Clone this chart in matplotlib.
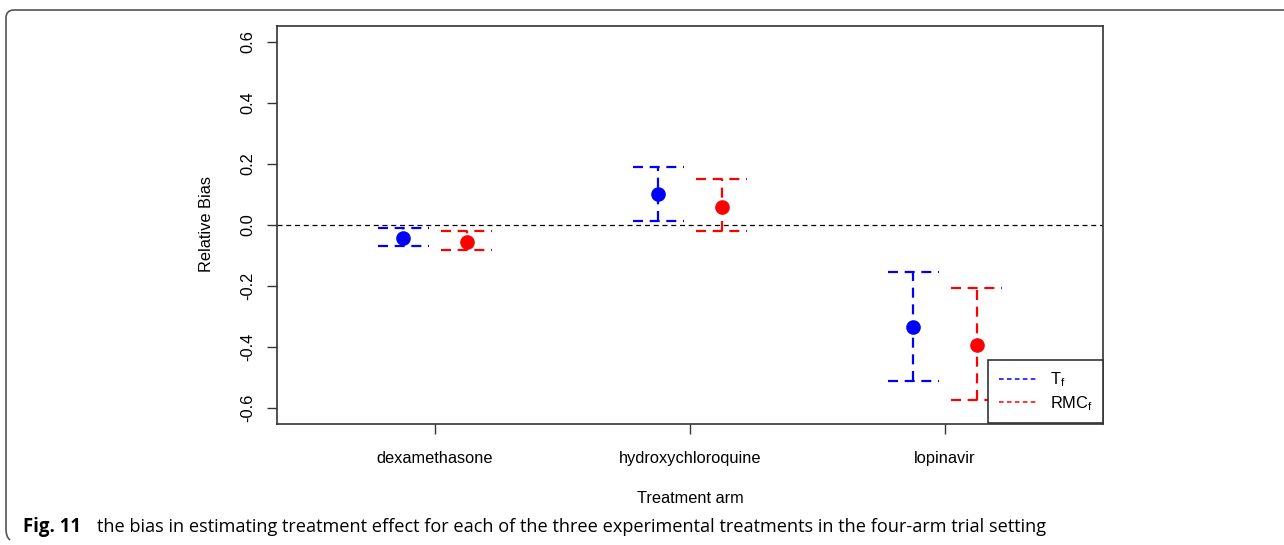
import matplotlib
matplotlib.use('Agg')
import matplotlib.pyplot as plt
from matplotlib.lines import Line2D
from matplotlib.path import Path
from matplotlib.patches import PathPatch

# ---- data ----
treatments = ['dexamethasone', 'hydroxychloroquine', 'lopinavir']
tf_est = [-0.043, 0.101, -0.333]
tf_lower = [-0.069, 0.014, -0.510]
tf_upper = [-0.010, 0.189, -0.155]
rmc_est = [-0.056, 0.060, -0.394]
rmc_lower = [-0.082, -0.020, -0.573]
rmc_upper = [-0.020, 0.150, -0.208]
yticks = [-0.6, -0.4, -0.2, 0.0, 0.2, 0.4, 0.6]
ytick_labels = ['-0.6', '-0.4', '-0.2', '0.0', '0.2', '0.4', '0.6']
series_labels = [r'T$_{\mathregular{f}}$', r'RMC$_{\mathregular{f}}$']
series_colors = ['#0000ff', '#ff0000']
xlabel = 'Treatment arm'
ylabel = 'Relative Bias'
caption_bold = 'Fig. 11'
caption_text = ('the bias in estimating treatment effect for each of the three '
                'experimental treatments in the four-arm trial setting')

plt.rcParams['font.family'] = ['Liberation Sans', 'DejaVu Sans']
plt.rcParams['mathtext.fontset'] = 'custom'
plt.rcParams['mathtext.rm'] = 'Liberation Sans'

W, H = 1284, 545
fig = plt.figure(figsize=(W / 100, H / 100), dpi=100)
fig.patch.set_facecolor('white')

# outer frame (top and left border with rounded corners)
r = 8
verts = [(W, H - 10), (6 + r, H - 10), (6, H - 10), (6, H - 10 - r), (6, 8 + r), (6, 8), (6 + r * 0.5, 5)]
codes = [Path.MOVETO, Path.LINETO, Path.CURVE3, Path.CURVE3, Path.LINETO, Path.CURVE3, Path.CURVE3]
fig.add_artist(PathPatch(Path(verts, codes), transform=None, fill=False,
                         edgecolor='#555555', linewidth=1.2))

ax = fig.add_axes([277 / W, 1 - 423.5 / H, (1103 - 277) / W, (423.5 - 25.5) / H])
x = [1, 2, 3]
off = 0.125
cap = 0.1
dash = (0, (4.5, 3))
lw = 1.6

for est, lo, hi, col, sgn in [(tf_est, tf_lower, tf_upper, series_colors[0], -1),
                              (rmc_est, rmc_lower, rmc_upper, series_colors[1], 1)]:
    xs = [xi + sgn * off for xi in x]
    ax.vlines(xs, lo, hi, colors=col, linestyles=dash, linewidth=lw, zorder=2)
    ax.hlines(lo, [v - cap for v in xs], [v + cap for v in xs], colors=col,
              linestyles=dash, linewidth=lw, zorder=2)
    ax.hlines(hi, [v - cap for v in xs], [v + cap for v in xs], colors=col,
              linestyles=dash, linewidth=lw, zorder=2)
    ax.plot(xs, est, 'o', color=col, markersize=9.5, zorder=3)

ax.axhline(0, color='black', linestyle=(0, (4, 3)), linewidth=0.9, zorder=1)

ax.set_xlim(0.38, 3.62)
ax.set_ylim(-0.650, 0.653)
ax.set_xticks(x)
ax.set_xticklabels(treatments, fontsize=11.8)
ax.set_yticks(yticks)
ax.set_yticklabels(ytick_labels, fontsize=11.8, rotation=90, va='center')
ax.tick_params(axis='both', direction='out', length=7, width=1.0, color='#333333')
ax.tick_params(axis='x', pad=13)
ax.tick_params(axis='y', pad=8.5)
for s in ax.spines.values():
    s.set_color('#333333')
    s.set_linewidth(1.2)

ax.set_xlabel(xlabel, fontsize=11.8, labelpad=18)
ax.set_ylabel(ylabel, fontsize=11.8, labelpad=19)

handles = [Line2D([], [], color=c, linestyle=(0, (3, 2.2)), linewidth=1.1) for c in series_colors]
leg = ax.legend(handles, series_labels, loc='lower right', borderaxespad=0,
                fontsize=11.8, handlelength=2.3, handletextpad=0.8, labelspacing=0.3,
                borderpad=0.65, fancybox=False, framealpha=1, edgecolor='#333333')
leg.get_frame().set_linewidth(1.2)
leg.set_zorder(5)

fig.text(23 / W, 1 - 532 / H, caption_bold, fontsize=13.4, fontweight='bold',
         family='Open Sans', va='baseline', ha='left')
fig.text(97 / W, 1 - 532 / H, caption_text, fontsize=13.1,
         family='Open Sans', va='baseline', ha='left')

fig.savefig('out.png', dpi=100)
